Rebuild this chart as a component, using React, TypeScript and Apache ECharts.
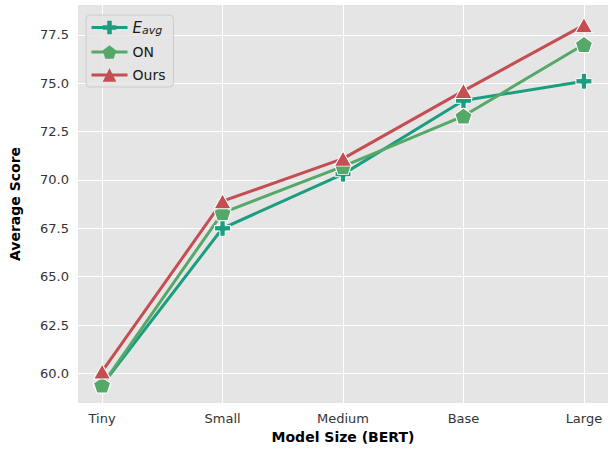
import React, { useEffect, useRef } from "react";
import * as echarts from "echarts";

const categories = ["Tiny", "Small", "Medium", "Base", "Large"];
const eavgValues = [59.4, 67.5, 70.3, 74.1, 75.1];
const onValues = [59.4, 68.3, 70.7, 73.3, 77.0];
const oursValues = [60.1, 68.9, 71.1, 74.6, 78.0];
const yTicks = [60, 62.5, 65, 67.5, 70, 72.5, 75, 77.5];

const FONT = "DejaVu Sans";
const PLUS = "path://M-1,-3L1,-3L1,-1L3,-1L3,1L1,1L1,3L-1,3L-1,1L-3,1L-3,-1L-1,-1Z";
const PENT = "path://M0,-1L0.951,-0.309L0.588,0.809L-0.588,0.809L-0.951,-0.309Z";

export default function App() {
  const ref = useRef<HTMLDivElement>(null);
  useEffect(() => {
    const chart = echarts.init(ref.current!, null, { renderer: "svg" });
    const toPairs = (arr: number[]) => arr.map((v, i) => [i, v]);
    const mkSeries = (name: string, data: number[], color: string, symbol: string, size: number | number[]) => ({
      name,
      type: "line",
      data: toPairs(data),
      symbol,
      symbolSize: size,
      lineStyle: { color, width: 3 },
      itemStyle: { color, borderColor: "#ffffff", borderWidth: 1 },
      emphasis: { disabled: true },
    });
    chart.setOption({
      animation: false,
      backgroundColor: "#ffffff",
      grid: { left: 77, right: -1, top: 5, bottom: 44, backgroundColor: "#e5e5e5", show: true, borderWidth: 0 },
      legend: {
        left: 86,
        top: 15,
        orient: "vertical",
        itemWidth: 36,
        itemHeight: 17,
        itemGap: 9,
        padding: [5, 8, 5, 4],
        backgroundColor: "rgba(229,229,229,0.8)",
        borderColor: "#cccccc",
        borderWidth: 1,
        borderRadius: 4,
        lineStyle: { width: 3 },
        itemStyle: { borderWidth: 0 },
        data: ["Eavg", "ON", "Ours"],
        formatter: (n: string) => (n === "Eavg" ? "{e|E}{s|avg}" : n),
        textStyle: {
          fontFamily: FONT,
          fontSize: 14,
          color: "#1a1a1a",
          rich: {
            e: { fontFamily: FONT, fontSize: 15, fontStyle: "italic", color: "#1a1a1a" },
            s: { fontFamily: FONT, fontSize: 11, fontStyle: "italic", color: "#1a1a1a", verticalAlign: "bottom", padding: [6, 0, 0, 0] },
          },
        },
      },
      xAxis: {
        type: "value",
        min: -0.2,
        max: 4.2,
        name: "Model Size (BERT)",
        nameLocation: "middle",
        nameGap: 27,
        nameTextStyle: { fontFamily: FONT, fontSize: 14, fontWeight: "bold", color: "#000" },
        axisLine: { show: false },
        axisTick: { show: false, customValues: [0, 1, 2, 3, 4] },
        axisLabel: {
          customValues: [0, 1, 2, 3, 4],
          formatter: (v: number) => categories[Math.round(v)] ?? "",
          fontFamily: FONT,
          fontSize: 13,
          color: "#333",
          margin: 9,
        },
        splitLine: { show: true, lineStyle: { color: "#ffffff", width: 1 } },
      },
      yAxis: {
        type: "value",
        min: 58.47,
        max: 79.04,
        name: "Average Score",
        nameLocation: "middle",
        nameGap: 56,
        nameTextStyle: { fontFamily: FONT, fontSize: 14, fontWeight: "bold", color: "#000" },
        axisLine: { show: false },
        axisTick: { show: false, customValues: yTicks },
        axisLabel: {
          customValues: yTicks,
          formatter: (v: number) => v.toFixed(1),
          fontFamily: FONT,
          fontSize: 13,
          color: "#333",
          margin: 9,
        },
        splitLine: { show: true, lineStyle: { color: "#ffffff", width: 1 } },
      },
      series: [
        mkSeries("Eavg", eavgValues, "#1b9e80", PLUS, 16),
        mkSeries("ON", onValues, "#55a868", PENT, [17, 16]),
        mkSeries("Ours", oursValues, "#c44e52", "triangle", [17, 15]),
      ],
    });
    return () => chart.dispose();
  }, []);
  return <div ref={ref} style={{ width: 608, height: 449, position: "absolute", left: 0, top: 0 }} />;
}
